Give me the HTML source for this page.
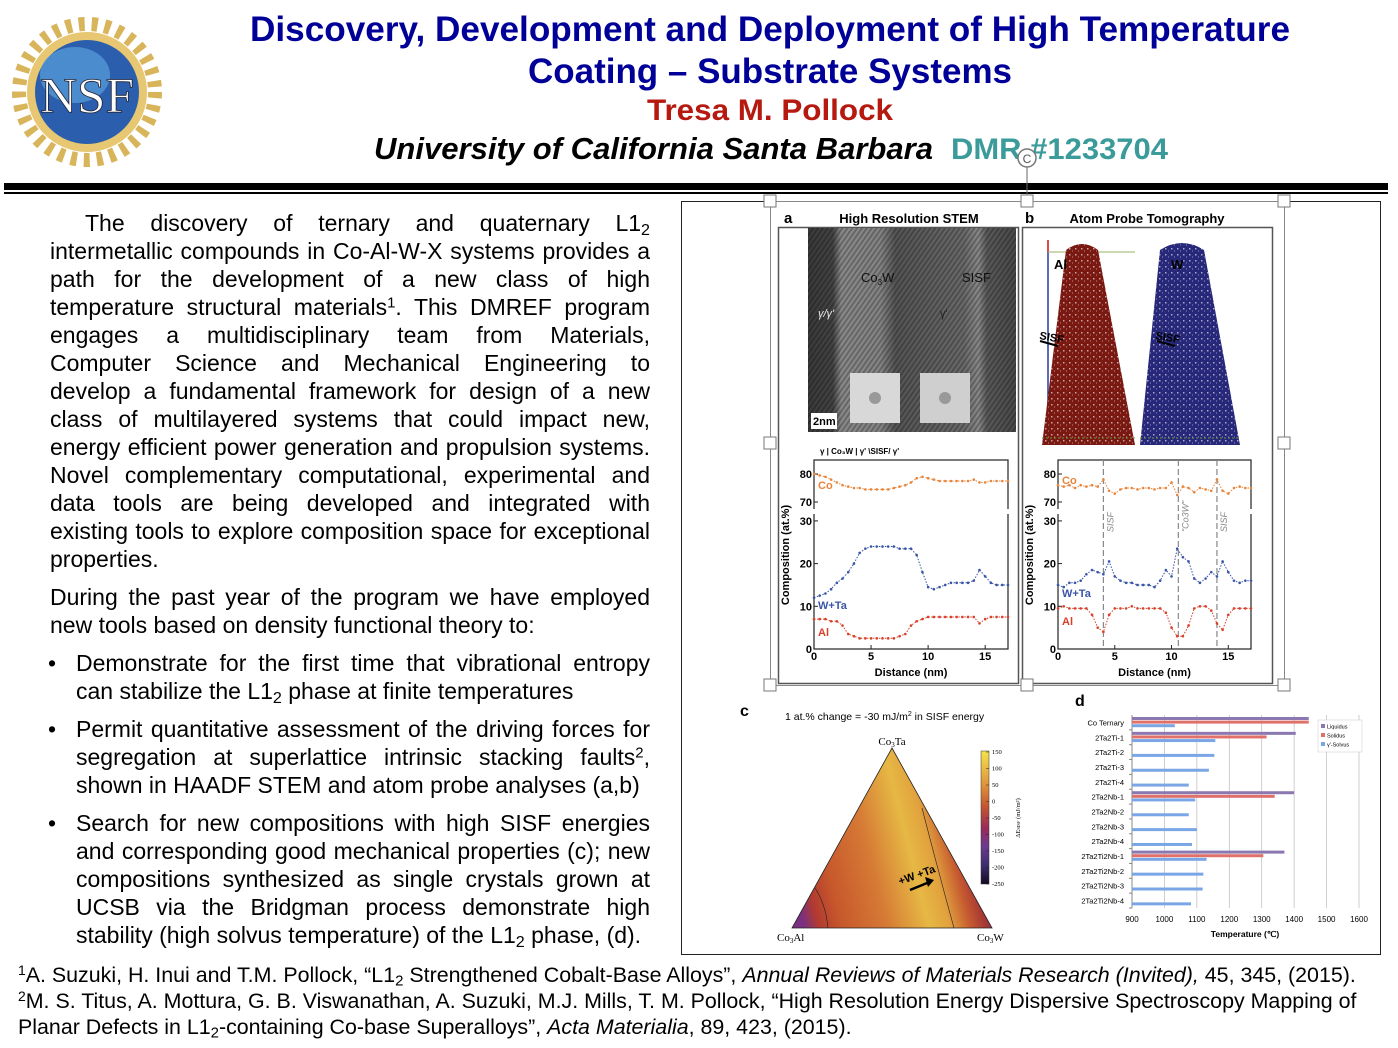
<!DOCTYPE html>
<html><head><meta charset="utf-8">
<style>
body{margin:0;width:1398px;height:1048px;background:#fff;position:relative;overflow:hidden;font-family:"Liberation Sans",Arial,sans-serif;}
.ln{position:absolute;left:50px;width:600px;font-size:23px;line-height:28px;height:28px;text-align:justify;text-align-last:justify;white-space:nowrap;color:#000;}
.ln.last{text-align-last:left;}
.b{left:76px;width:574px;}
.bul{position:absolute;left:48px;font-size:23px;line-height:28px;}
.fn{position:absolute;left:18px;font-size:21.4px;line-height:26px;white-space:nowrap;}
sub{font-size:0.7em;vertical-align:-0.25em;line-height:0}
sup{font-size:0.65em;vertical-align:0.5em;line-height:0}
</style></head><body>
<svg width="1398" height="200" style="position:absolute;left:0;top:0">
  <g>
    <circle cx="87" cy="92" r="68" fill="none" stroke="#d8b45a" stroke-width="14" stroke-dasharray="6 7"/>
    <circle cx="87" cy="92" r="60" fill="#e7c772"/>
    <circle cx="87" cy="92" r="52" fill="#2b5fae"/>
    <ellipse cx="75" cy="75" rx="35" ry="28" fill="#5aa0dc" opacity="0.7"/>
    <text x="87" y="112" font-family="Liberation Serif" font-size="50" fill="#fff" text-anchor="middle" stroke="#223" stroke-width="0.8" textLength="94" lengthAdjust="spacingAndGlyphs">NSF</text>
  </g>
  <text x="770" y="41" text-anchor="middle" font-size="35" font-weight="bold" fill="#000099" textLength="1040" lengthAdjust="spacingAndGlyphs">Discovery, Development and Deployment of High Temperature</text>
  <text x="770" y="83" text-anchor="middle" font-size="35" font-weight="bold" fill="#000099" textLength="484" lengthAdjust="spacingAndGlyphs">Coating – Substrate Systems</text>
  <text x="770" y="120" text-anchor="middle" font-size="30" font-weight="bold" fill="#b5190f" textLength="246" lengthAdjust="spacingAndGlyphs">Tresa M. Pollock</text>
  <text x="374" y="159" font-size="31" font-weight="bold" font-style="italic" fill="#000" textLength="559" lengthAdjust="spacingAndGlyphs">University of California Santa Barbara</text>
  <text x="951" y="159" font-size="30" font-weight="bold" fill="#3b9a9a" textLength="217" lengthAdjust="spacingAndGlyphs">DMR #1233704</text>
  <rect x="4" y="183" width="1384" height="7" fill="#000"/>
  <rect x="4" y="192" width="1384" height="2" fill="#000"/>
  <line x1="1027" y1="166" x2="1027" y2="201" stroke="#666"/>
  <circle cx="1027" cy="158" r="9" fill="#fff" stroke="#777" stroke-width="1.5"/>
  <text x="1027" y="163" font-size="12" text-anchor="middle" fill="#555">C</text>
</svg>

<div>
<div class="ln" style="top:209px;left:85px;width:565px">The discovery of ternary and quaternary L1<sub>2</sub></div>
<div class="ln" style="top:237px">intermetallic compounds in Co-Al-W-X systems provides a</div>
<div class="ln" style="top:265px">path for the development of a new class of high</div>
<div class="ln" style="top:293px">temperature structural materials<sup>1</sup>. This DMREF program</div>
<div class="ln" style="top:321px">engages a multidisciplinary team from Materials,</div>
<div class="ln" style="top:349px">Computer Science and Mechanical Engineering to</div>
<div class="ln" style="top:377px">develop a fundamental framework for design of a new</div>
<div class="ln" style="top:405px">class of multilayered systems that could impact new,</div>
<div class="ln" style="top:433px">energy efficient power generation and propulsion systems.</div>
<div class="ln" style="top:461px">Novel complementary computational, experimental and</div>
<div class="ln" style="top:489px">data tools are being developed and integrated with</div>
<div class="ln" style="top:517px">existing tools to explore composition space for exceptional</div>
<div class="ln last" style="top:545px">properties.</div>
<div class="ln" style="top:583px">During the past year of the program we have employed</div>
<div class="ln last" style="top:611px">new tools based on density functional theory to:</div>
<div class="bul" style="top:649px">•</div>
<div class="ln b" style="top:649px">Demonstrate for the first time that vibrational entropy</div>
<div class="ln b last" style="top:677px">can stabilize the L1<sub>2</sub> phase at finite temperatures</div>
<div class="bul" style="top:715px">•</div>
<div class="ln b" style="top:715px">Permit quantitative assessment of the driving forces for</div>
<div class="ln b" style="top:743px">segregation at superlattice intrinsic stacking faults<sup>2</sup>,</div>
<div class="ln b last" style="top:771px">shown in HAADF STEM and atom probe analyses (a,b)</div>
<div class="bul" style="top:809px">•</div>
<div class="ln b" style="top:809px">Search for new compositions with high SISF energies</div>
<div class="ln b" style="top:837px">and corresponding good mechanical properties (c); new</div>
<div class="ln b" style="top:865px">compositions synthesized as single crystals grown at</div>
<div class="ln b" style="top:893px">UCSB via the Bridgman process demonstrate high</div>
<div class="ln b last" style="top:921px">stability (high solvus temperature) of the L1<sub>2</sub> phase, (d).</div>
</div>
<div>
<div class="fn" style="top:962px"><sup>1</sup>A. Suzuki, H. Inui and T.M. Pollock, “L1<sub>2</sub> Strengthened Cobalt-Base Alloys”, <i>Annual Reviews of Materials Research (Invited),</i> 45, 345, (2015).</div>
<div class="fn" style="top:988px"><sup>2</sup>M. S. Titus, A. Mottura, G. B. Viswanathan, A. Suzuki, M.J. Mills, T. M. Pollock, “High Resolution Energy Dispersive Spectroscopy Mapping of</div>
<div class="fn" style="top:1014px">Planar Defects in L1<sub>2</sub>-containing Co-base Superalloys”, <i>Acta Materialia</i>, 89, 423, (2015).</div>
</div>

<svg id="fig" width="1398" height="1048" style="position:absolute;left:0;top:0">
  <defs>
    <linearGradient id="stem" x1="0" x2="1" y1="0" y2="0">
      <stop offset="0" stop-color="#3a3a3a"/><stop offset="0.12" stop-color="#444"/>
      <stop offset="0.16" stop-color="#8a8a8a"/><stop offset="0.35" stop-color="#858585"/>
      <stop offset="0.42" stop-color="#555"/><stop offset="0.75" stop-color="#6a6a6a"/>
      <stop offset="0.82" stop-color="#8a8a8a"/><stop offset="0.86" stop-color="#5a5a5a"/><stop offset="1" stop-color="#4a4a4a"/>
    </linearGradient>
    <pattern id="stripes" width="4" height="4" patternUnits="userSpaceOnUse" patternTransform="rotate(35)">
      <rect width="2" height="4" fill="#000" opacity="0.25"/>
    </pattern>
    <pattern id="speck" width="6" height="6" patternUnits="userSpaceOnUse">
      <rect x="1" y="2" width="1.5" height="1.5" fill="#fff" opacity="0.6"/><rect x="4" y="4.5" width="1" height="1" fill="#fff" opacity="0.5"/>
    </pattern>
    <linearGradient id="cbar" x1="0" x2="0" y1="0" y2="1">
      <stop offset="0" stop-color="#f4e24c"/><stop offset="0.25" stop-color="#e0953b"/>
      <stop offset="0.42" stop-color="#c4552f"/><stop offset="0.58" stop-color="#9a2a5a"/>
      <stop offset="0.72" stop-color="#6a3a90"/><stop offset="0.87" stop-color="#3a2a6a"/><stop offset="1" stop-color="#120a20"/>
    </linearGradient>
    <linearGradient id="tri" gradientUnits="userSpaceOnUse" x1="795" y1="890" x2="990" y2="840">
      <stop offset="0" stop-color="#7a3080"/><stop offset="0.07" stop-color="#b23a30"/>
      <stop offset="0.18" stop-color="#c7582c"/><stop offset="0.4" stop-color="#d67a35"/>
      <stop offset="0.6" stop-color="#e6b844"/><stop offset="0.7" stop-color="#e2a23e"/>
      <stop offset="0.8" stop-color="#c65a30"/><stop offset="0.88" stop-color="#a33535"/>
      <stop offset="0.95" stop-color="#7a3a8a"/><stop offset="1" stop-color="#4a4a90"/>
    </linearGradient>
    <clipPath id="c1"><path d="M1066 250 Q1082 238 1098 250 L1135 445 L1042 445 Z"/></clipPath>
    <clipPath id="c2"><path d="M1160 250 Q1182 236 1204 250 L1240 445 L1140 445 Z"/></clipPath>
  </defs>
  <rect x="681.5" y="201.5" width="699" height="753" fill="none" stroke="#222"/>
  <rect x="770.5" y="201.5" width="514" height="484" fill="none" stroke="#888"/>
  <rect x="778.5" y="227.5" width="240" height="456" fill="none" stroke="#555" stroke-width="1.5"/>
  <rect x="1022.5" y="227.5" width="250" height="456" fill="none" stroke="#555" stroke-width="1.5"/>
  <text x="784" y="223" font-size="15" font-weight="bold">a</text>
  <text x="909" y="223" font-size="13" font-weight="bold" text-anchor="middle">High Resolution STEM</text>
  <text x="1025" y="223" font-size="15" font-weight="bold">b</text>
  <text x="1147" y="223" font-size="13" font-weight="bold" text-anchor="middle">Atom Probe Tomography</text>
  <g>
    <rect x="808" y="228" width="208" height="204" fill="url(#stem)"/>
    <rect x="808" y="228" width="208" height="204" fill="url(#stripes)"/>
    <rect x="850" y="373" width="50" height="50" fill="#d8d8d8"/>
    <rect x="920" y="373" width="50" height="50" fill="#cfcfcf"/>
    <circle cx="875" cy="398" r="6" fill="#999"/><circle cx="945" cy="398" r="6" fill="#999"/>
    <text x="861" y="282" font-size="13" fill="#111">Co<tspan font-size="8" dy="3">3</tspan><tspan dy="-3">W</tspan></text>
    <text x="962" y="282" font-size="13" fill="#111">SISF</text>
    <text x="818" y="317" font-size="11" fill="#eee" font-style="italic">γ/γ'</text>
    <text x="940" y="317" font-size="11" fill="#222">γ'</text>
    <rect x="811" y="413" width="26" height="16" fill="#fff"/>
    <text x="813" y="425" font-size="11" font-weight="bold">2nm</text>
  </g>
  <g>
    <line x1="1048" y1="252" x2="1048" y2="445" stroke="#2a3aa0" stroke-width="1.5"/>
    <line x1="1048" y1="240" x2="1048" y2="252" stroke="#d01010" stroke-width="1.5"/>
    <line x1="1048" y1="252" x2="1135" y2="252" stroke="#9ab060"/>
    <path d="M1066 250 Q1082 238 1098 250 L1135 445 L1042 445 Z" fill="#7a1812"/>
    <rect x="1040" y="236" width="100" height="212" fill="url(#speck)" clip-path="url(#c1)"/>
    <path d="M1160 250 Q1182 236 1204 250 L1240 445 L1140 445 Z" fill="#27287a"/>
    <rect x="1138" y="236" width="106" height="212" fill="url(#speck)" clip-path="url(#c2)"/>
    <line x1="1042" y1="438" x2="1135" y2="438" stroke="#6a9a40" stroke-dasharray="2 2"/>
    <line x1="1140" y1="438" x2="1240" y2="438" stroke="#6a9a40" stroke-dasharray="2 2"/>
    <text x="1054" y="269" font-size="13" font-weight="bold">Al</text>
    <text x="1171" y="269" font-size="13" font-weight="bold">W</text>
    <text x="1039" y="339" font-size="11" font-weight="bold" transform="rotate(10 1039 339)">SISF</text>
    <text x="1155" y="339" font-size="11" font-weight="bold" transform="rotate(10 1155 339)">SISF</text>
    <line x1="1040" y1="341" x2="1058" y2="346" stroke="#000" stroke-width="2"/>
    <line x1="1157" y1="341" x2="1175" y2="346" stroke="#000" stroke-width="2"/>
  </g>
  <g id="profA"></g>
  <g id="profB"></g>
  <g>
    <text x="740" y="716" font-size="16" font-weight="bold">c</text>
    <text x="785" y="720" font-size="10.5">1 at.% change = -30 mJ/m<tspan font-size="7" dy="-4">2</tspan><tspan dy="4"> in SISF energy</tspan></text>
    <path d="M892 748 L992 928 L792 928 Z" fill="url(#tri)" stroke="#222" stroke-width="0.8"/>
    <path d="M815 888 Q826 905 828 928" fill="none" stroke="#222" stroke-width="0.6"/>
    <path d="M922 808 Q938 870 954 928" fill="none" stroke="#222" stroke-width="0.6"/>
    <text x="892" y="745" font-size="11" font-family="Liberation Serif" text-anchor="middle">Co<tspan font-size="7" dy="2">3</tspan><tspan dy="-2">Ta</tspan></text>
    <text x="777" y="941" font-size="11" font-family="Liberation Serif">Co<tspan font-size="7" dy="2">3</tspan><tspan dy="-2">Al</tspan></text>
    <text x="977" y="941" font-size="11" font-family="Liberation Serif">Co<tspan font-size="7" dy="2">3</tspan><tspan dy="-2">W</tspan></text>
    <text x="900" y="885" font-size="11" font-weight="bold" transform="rotate(-20 900 885)">+W +Ta</text>
    <line x1="910" y1="890" x2="932" y2="881" stroke="#000" stroke-width="2.5"/>
    <path d="M934 880 L925 877 L928 887 Z" fill="#000"/>
    <rect x="981" y="751" width="8" height="133" fill="url(#cbar)" stroke="#333" stroke-width="0.5"/>
    <g font-size="6.5" font-family="Liberation Serif" id="cbticks"></g>
    <text x="1020" y="818" font-size="6.5" font-family="Liberation Serif" transform="rotate(-90 1020 818)" text-anchor="middle">ΔE<tspan font-size="4.5">SISF</tspan> (mJ/m²)</text>
  </g>
  <g id="bars">
    <text x="1075" y="706" font-size="16" font-weight="bold">d</text>
  </g>
  <g>
    <rect x="764" y="195" width="12" height="12" fill="#fff" stroke="#777"/>
    <rect x="1021" y="195" width="12" height="12" fill="#fff" stroke="#777"/>
    <rect x="1278" y="195" width="12" height="12" fill="#fff" stroke="#777"/>
    <rect x="764" y="437" width="12" height="12" fill="#fff" stroke="#777"/>
    <rect x="1278" y="437" width="12" height="12" fill="#fff" stroke="#777"/>
    <rect x="764" y="679" width="12" height="12" fill="#fff" stroke="#777"/>
    <rect x="1021" y="679" width="12" height="12" fill="#fff" stroke="#777"/>
    <rect x="1278" y="679" width="12" height="12" fill="#fff" stroke="#777"/>
  </g>
</svg>

<script>
// Profile data (distance 0..17 nm step 0.5)
var distances = [0,0.5,1,1.5,2,2.5,3,3.5,4,4.5,5,5.5,6,6.5,7,7.5,8,8.5,9,9.5,10,10.5,11,11.5,12,12.5,13,13.5,14,14.5,15,15.5,16,16.5,17];
var stemCo  = [80,79.5,79,78,77,76,75.5,75,75,74.5,74.5,74.5,74.5,74.5,75,75.5,76,77,78.5,79,78.5,78,77.5,77.5,77.5,77.5,77.5,77.5,78,77,77,77.5,77.5,77.5,77.5];
var stemWTa = [12,12.5,13,14,15.5,16.5,18,20,22.5,23.5,24,24,24,24,24,23.5,23.5,23.5,22,18,14.5,14,14.5,15,15.5,15.5,15.5,15.5,16,18.5,17,15.5,15,15,15];
var stemAl  = [7,7,7,6.5,6.5,5.5,3.5,3,2.5,2.5,2.5,2.5,2.5,2.5,2.5,3,3.5,5.5,6.5,7,7.5,7.5,7.5,7.5,7.5,7.5,7.5,7.5,7.5,6,7,7.5,7.5,7.5,7.5];
var aptCo   = [76,75.5,76,75,76,75.5,76,75.5,78,74,73,74.5,75,75,74.5,75,75,74.5,75,75,77,72.5,75.5,75,73.5,75,74.5,74,78,74,73,75,75.5,75,75];
var aptWTa  = [15,14.5,15.5,15.5,16,17.5,18.5,18,17.5,20.5,17,16,15.5,15.5,15,15,15,14.5,16,18.5,17,23.5,21.5,20.5,16.5,15.5,16.5,18,17,20.5,18,16,15.5,16,16];
var aptAl   = [9.5,10,9.5,9.5,9.5,9.5,8,5,4,8,9.5,9.5,9.5,10,9.5,9.5,9.5,9.5,9.5,8.5,5,3,3,5.5,9.5,10,10,9,6,4.5,8,9.5,9.5,9.5,9.5];
var xTicks = [0,5,10,15];
var yTicksLow = [0,10,20,30];
var yTicksHigh = [70,80];
var aptDefects = [4,10.6,14];
var aptDefectLabels = ['SISF','"Co3W"','SISF'];

// Bar chart data
var alloys = ['Co Ternary','2Ta2Ti-1','2Ta2Ti-2','2Ta2Ti-3','2Ta2Ti-4','2Ta2Nb-1','2Ta2Nb-2','2Ta2Nb-3','2Ta2Nb-4','2Ta2Ti2Nb-1','2Ta2Ti2Nb-2','2Ta2Ti2Nb-3','2Ta2Ti2Nb-4'];
var liquidus = [1445,1405,null,null,null,1400,null,null,null,1370,null,null,null];
var solidus  = [1445,1315,null,null,null,1340,null,null,null,1305,null,null,null];
var solvus   = [1032,1157,1154,1137,1075,1095,1075,1100,1085,1130,1120,1118,1082];
var tempTicks = [900,1000,1100,1200,1300,1400,1500,1600];
var cbTicks = [150,100,50,0,-50,-100,-150,-200,-250];

var NS='http://www.w3.org/2000/svg';
function mk(parent,tag,attrs,txt){var e=document.createElementNS(NS,tag);for(var k in attrs)e.setAttribute(k,attrs[k]);if(txt!=null)e.textContent=txt;parent.appendChild(e);return e;}

function drawProfile(gid,x0,x1,series,colors,labels,labelPos,isB){
  var g=document.getElementById(gid);
  var top=460,bot=649;
  function sx(d){return x0+(d/17)*(x1-x0);}
  function sy(v){return v>=50?502-(v-70)*2.8:649-v*4.27;}
  mk(g,'rect',{x:x0,y:top,width:x1-x0,height:bot-top,fill:'none',stroke:'#222','stroke-width':1.2});
  mk(g,'rect',{x:x0-4,y:509,width:8,height:5,fill:'#fff'});
  mk(g,'rect',{x:x1-4,y:509,width:8,height:5,fill:'#fff'});
  xTicks.forEach(function(t){mk(g,'line',{x1:sx(t),x2:sx(t),y1:bot,y2:bot-4,stroke:'#222'});
    var tx=mk(g,'text',{x:sx(t),y:bot+11,'font-size':11,'font-weight':'bold','text-anchor':'middle'},String(t));
    
    });
  yTicksLow.concat(yTicksHigh).forEach(function(t){mk(g,'line',{x1:x0,x2:x0+4,y1:sy(t),y2:sy(t),stroke:'#222'});
    var ty=mk(g,'text',{x:x0-2,y:sy(t)+4,'font-size':11,'font-weight':'bold','text-anchor':'end'},String(t));
    
    });
  var yt=mk(g,'text',{x:x0-25,y:555,'font-size':11,'font-weight':'bold','text-anchor':'middle',transform:'rotate(-90 '+(x0-25)+' 555)'},'Composition (at.%)');
  
  
  var xt=mk(g,'text',{x:(x0+x1)/2,y:676,'font-size':11,'font-weight':'bold','text-anchor':'middle'},'Distance (nm)');
  
  
  if(isB){aptDefects.forEach(function(d,i){
    mk(g,'line',{x1:sx(d),x2:sx(d),y1:top,y2:bot,stroke:'#888','stroke-dasharray':'6 3','stroke-width':1.2});
    mk(g,'text',{x:sx(d)+10,y:532,'font-size':9,fill:'#888','font-style':'italic',transform:'rotate(-90 '+(sx(d)+10)+' 532)'},aptDefectLabels[i]);});}
  series.forEach(function(s,si){
    var pts=s.map(function(v,i){return sx(distances[i]).toFixed(1)+','+sy(v).toFixed(1);}).join(' ');
    var pl=mk(g,'polyline',{points:pts,fill:'none',stroke:colors[si],'stroke-width':1,'stroke-dasharray':'1.5 1.5'});
    
    
    s.forEach(function(v,i){var c=mk(g,'circle',{cx:sx(distances[i]),cy:sy(v),r:1.3,fill:colors[si]});
      
      });
    var lb=mk(g,'text',{x:x0+4,y:labelPos[si],'font-size':11,'font-weight':'bold',fill:colors[si]},labels[si]);
    
    
  });
}
drawProfile('profA',814,1008,[stemCo,stemWTa,stemAl],['#e8853a','#3a55a8','#d8402a'],['Co','W+Ta','Al'],[489,609,636],false);
drawProfile('profB',1058,1251,[aptCo,aptWTa,aptAl],['#e8853a','#3a55a8','#d8402a'],['Co','W+Ta','Al'],[484,597,625],true);
(function(){var g=document.getElementById('profA');
  var t=mk(g,'text',{x:820,y:454,'font-size':8,'font-weight':'bold'},'γ    |        Co₃W        |              γ\'   \\SISF/  γ\'');
  
  })();

(function(){var g=document.getElementById('cbticks');
  cbTicks.forEach(function(v){var y=752+(150-v)/400*132;
    mk(g,'line',{x1:989,x2:986,y1:y,y2:y,stroke:'#222','stroke-width':0.5});
    var t=mk(g,'text',{x:992,y:y+2},String(v));
    
    });})();

(function(){
  var g=document.getElementById('bars');
  var xL=1132,xR=1359,yT=715,yB=908;
  function sx(t){return xL+(t-900)/700*(xR-xL);}
  var rowH=(yB-yT)/alloys.length;
  tempTicks.forEach(function(t){
    mk(g,'line',{x1:sx(t),x2:sx(t),y1:yT,y2:yB,stroke:'#bbb','stroke-width':0.7});
    var tl=mk(g,'text',{x:sx(t),y:yB+14,'font-size':8,'text-anchor':'middle'},String(t));
    
    
  });
  mk(g,'line',{x1:xL,x2:xL,y1:yT,y2:yB,stroke:'#888'});
  var xt=mk(g,'text',{x:1245,y:937,'font-size':8.5,'font-weight':'bold','text-anchor':'middle'},'Temperature (℃)');
  
  
  alloys.forEach(function(a,i){
    var y0=yT+i*rowH;
    var l=mk(g,'text',{x:xL-8,y:y0+rowH/2+3,'font-size':7.5,'text-anchor':'end'},a);
    
    
    mk(g,'line',{x1:xL-3,x2:xL,y1:y0+rowH,y2:y0+rowH,stroke:'#888'});
    var sets=[[liquidus,'#8b78b0'],[solidus,'#e0706a'],[solvus,'#7aa6e6']];
    sets.forEach(function(s,k){var v=s[0][i];if(v==null)return;
      var r=mk(g,'rect',{x:xL,y:y0+2+k*3.6,width:sx(v)-xL,height:3,fill:s[1]});
      
      });
  });
  var lg=mk(g,'g',{});
  
  
  mk(lg,'rect',{x:1318,y:720,width:44,height:32,fill:'#fff',stroke:'#ccc','stroke-width':0.5});
  [['Liquidus','#8b78b0'],['Solidus','#e0706a'],["γ'-Solvus",'#7aa6e6']].forEach(function(e,k){
    mk(lg,'rect',{x:1321,y:724+k*9,width:4,height:4,fill:e[1]});
    var t=mk(lg,'text',{x:1327,y:728.5+k*9,'font-size':5.5},e[0]);
    
    });
})();
</script>
</body></html>
